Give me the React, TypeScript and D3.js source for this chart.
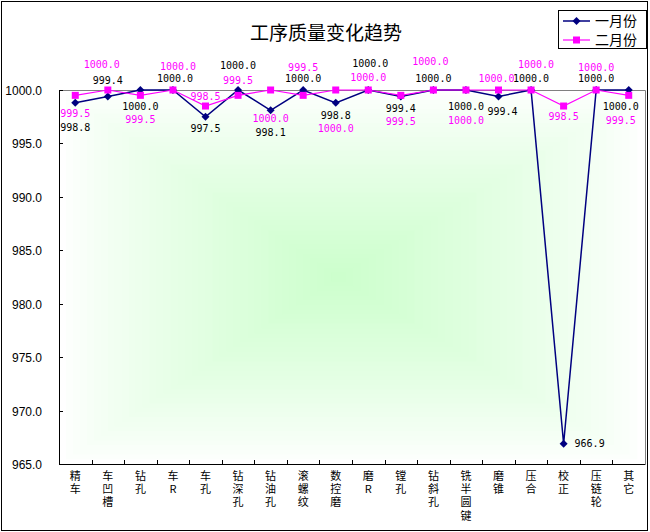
import { useEffect, useRef } from "react";
import * as d3 from "d3";

const categories = ["精车", "车凹槽", "钻孔", "车R", "车孔", "钻深孔", "钻油孔", "滚螺纹", "数控磨", "磨R", "镗孔", "钻斜孔", "铣半圆键", "磨锥", "压合", "校正", "压链轮", "其它"];
const january = [998.8, 999.4, 1000.0, 1000.0, 997.5, 1000.0, 998.1, 1000.0, 998.8, 1000.0, 999.4, 1000.0, 1000.0, 999.4, 1000.0, 966.9, 1000.0, 1000.0];
const february = [999.5, 1000.0, 999.5, 1000.0, 998.5, 999.5, 1000.0, 999.5, 1000.0, 1000.0, 999.5, 1000.0, 1000.0, 1000.0, 1000.0, 998.5, 1000.0, 999.5];
const seriesNames = ["一月份", "二月份"];
const yTicks = [965, 970, 975, 980, 985, 990, 995, 1000];

// hand-placed data label nudges (dx, dy in px), as in the original sheet
const nudgeJan = [[0, 25], [0, -16], [0, 16], [2, -12], [0, 12], [0, -25], [0, 22], [0, -12], [0, 13], [2, -27], [0, 12], [0, -12], [0, 16], [4, 15], [0, -12], [26, 0], [0, -12], [-8, 16]];
const nudgeFeb = [[0, 18], [-6, -26], [0, 24], [5, -24], [0, -10], [0, -15], [0, 28], [0, -28], [0, 38], [0, -13], [0, 26], [-3, -29], [0, 30], [-2, -12], [5, -26], [0, 10], [0, -23], [-8, 25]];

export default function App() {
  const svgRef = useRef(null);

  useEffect(() => {
    document.body.style.margin = "0";
    if (!svgRef.current) return;

    const width = 650;
    const height = 532;
    const left = 59;
    const right = 645;
    const top = 90;
    const bottom = 464;

    const svg = d3.select(svgRef.current);
    svg.selectAll("*").remove();
    svg.attr("width", width).attr("height", height);

    svg
      .append("rect")
      .attr("x", 1.5)
      .attr("y", 1.5)
      .attr("width", 646)
      .attr("height", 529)
      .attr("fill", "white")
      .attr("stroke", "black");

    const x = d3.scaleBand().domain(categories).range([left, right]);
    const cx = (c) => x(c)! + x.bandwidth() / 2;
    const y = d3.scaleLinear().domain([965, 1000]).range([bottom, top]);

    // rectangular "from centre" fill
    const steps = 40;
    const fill = d3.interpolateRgb("#ffffff", "#ccffcc");
    const pw = right - left;
    const ph = bottom - top;
    d3.range(steps).forEach((i) => {
      const t = i / steps;
      svg
        .append("rect")
        .attr("x", left + (t * pw) / 2 - t * 14)
        .attr("y", top + (t * ph) / 2)
        .attr("width", pw * (1 - t))
        .attr("height", ph * (1 - t))
        .attr("fill", fill(Math.pow(t, 0.8)));
    });

    // plot border: grey top/right, black axes
    svg
      .append("path")
      .attr("d", `M${left},${top + 0.5}H${right + 0.5}V${bottom}`)
      .attr("fill", "none")
      .attr("stroke", "#808080");
    svg
      .append("path")
      .attr("d", `M${left + 0.5},${top}V${bottom + 0.5}H${right + 0.5}`)
      .attr("fill", "none")
      .attr("stroke", "black");

    yTicks.forEach((t) => {
      const yy = Math.round(y(t)) + 0.5;
      svg
        .append("line")
        .attr("x1", left)
        .attr("x2", left + 4)
        .attr("y1", yy)
        .attr("y2", yy)
        .attr("stroke", "black");
      svg
        .append("text")
        .attr("x", 42)
        .attr("y", yy + 4.5)
        .attr("text-anchor", "end")
        .attr("font-family", "Liberation Sans, Arial, sans-serif")
        .attr("font-size", "12px")
        .text(d3.format(".1f")(t));
    });

    categories.forEach((c, i) => {
      if (i > 0) {
        const xx = Math.round(x(c)!) + 0.5;
        svg
          .append("line")
          .attr("x1", xx)
          .attr("x2", xx)
          .attr("y1", bottom)
          .attr("y2", bottom - 4)
          .attr("stroke", "black");
      }
      // stacked vertical category label
      svg
        .append("text")
        .attr("x", cx(c))
        .attr("y", 470)
        .attr("writing-mode", "vertical-rl")
        .style("text-orientation", "upright")
        .attr("letter-spacing", "2.3px")
        .attr("font-family", "Noto Sans CJK SC, sans-serif")
        .attr("font-size", "11px")
        .text(c);
    });

    const line = d3
      .line<number>()
      .x((_, i) => cx(categories[i]))
      .y((d) => y(d));

    const diamond = (px, py) => `M${px},${py - 4}L${px + 4},${py}L${px},${py + 4}L${px - 4},${py}Z`;

    svg
      .append("path")
      .attr("d", line(january))
      .attr("fill", "none")
      .attr("stroke", "#000080")
      .attr("stroke-width", 1.5);
    january.forEach((v, i) => {
      svg.append("path").attr("d", diamond(cx(categories[i]), y(v))).attr("fill", "#000080");
    });

    svg
      .append("path")
      .attr("d", line(february))
      .attr("fill", "none")
      .attr("stroke", "#ff00ff")
      .attr("stroke-width", 1.2);
    february.forEach((v, i) => {
      svg
        .append("rect")
        .attr("x", cx(categories[i]) - 3.5)
        .attr("y", y(v) - 3.5)
        .attr("width", 7)
        .attr("height", 7)
        .attr("fill", "#ff00ff");
    });

    const addLabels = (values, nudges, color) => {
      values.forEach((v, i) => {
        svg
          .append("text")
          .attr("x", cx(categories[i]) + nudges[i][0])
          .attr("y", y(v) + nudges[i][1])
          .attr("dy", "0.35em")
          .attr("text-anchor", "middle")
          .attr("font-family", "DejaVu Sans Mono, monospace")
          .attr("font-size", "10px")
          .attr("fill", color)
          .text(d3.format(".1f")(v));
      });
    };
    addLabels(january, nudgeJan, "black");
    addLabels(february, nudgeFeb, "#ff00ff");

    svg
      .append("text")
      .attr("x", 326)
      .attr("y", 40)
      .attr("text-anchor", "middle")
      .attr("font-family", "Noto Sans CJK SC, sans-serif")
      .attr("font-size", "19px")
      .text("工序质量变化趋势");

    // legend
    svg
      .append("rect")
      .attr("x", 558.5)
      .attr("y", 10.5)
      .attr("width", 88)
      .attr("height", 38)
      .attr("fill", "white")
      .attr("stroke", "black");
    seriesNames.forEach((name, i) => {
      const ly = 21 + i * 19;
      const color = i === 0 ? "#000080" : "#ff00ff";
      svg
        .append("line")
        .attr("x1", 563)
        .attr("x2", 590)
        .attr("y1", ly)
        .attr("y2", ly)
        .attr("stroke", color)
        .attr("stroke-width", i === 0 ? 1.5 : 1.2);
      if (i === 0) {
        svg.append("path").attr("d", diamond(576.5, ly)).attr("fill", color);
      } else {
        svg
          .append("rect")
          .attr("x", 573)
          .attr("y", ly - 3.5)
          .attr("width", 7)
          .attr("height", 7)
          .attr("fill", color);
      }
      svg
        .append("text")
        .attr("x", 595)
        .attr("y", ly + 5)
        .attr("font-family", "Noto Sans CJK SC, sans-serif")
        .attr("font-size", "14px")
        .text(name);
    });
  }, []);

  return <svg ref={svgRef} style={{ display: "block" }} />;
}
